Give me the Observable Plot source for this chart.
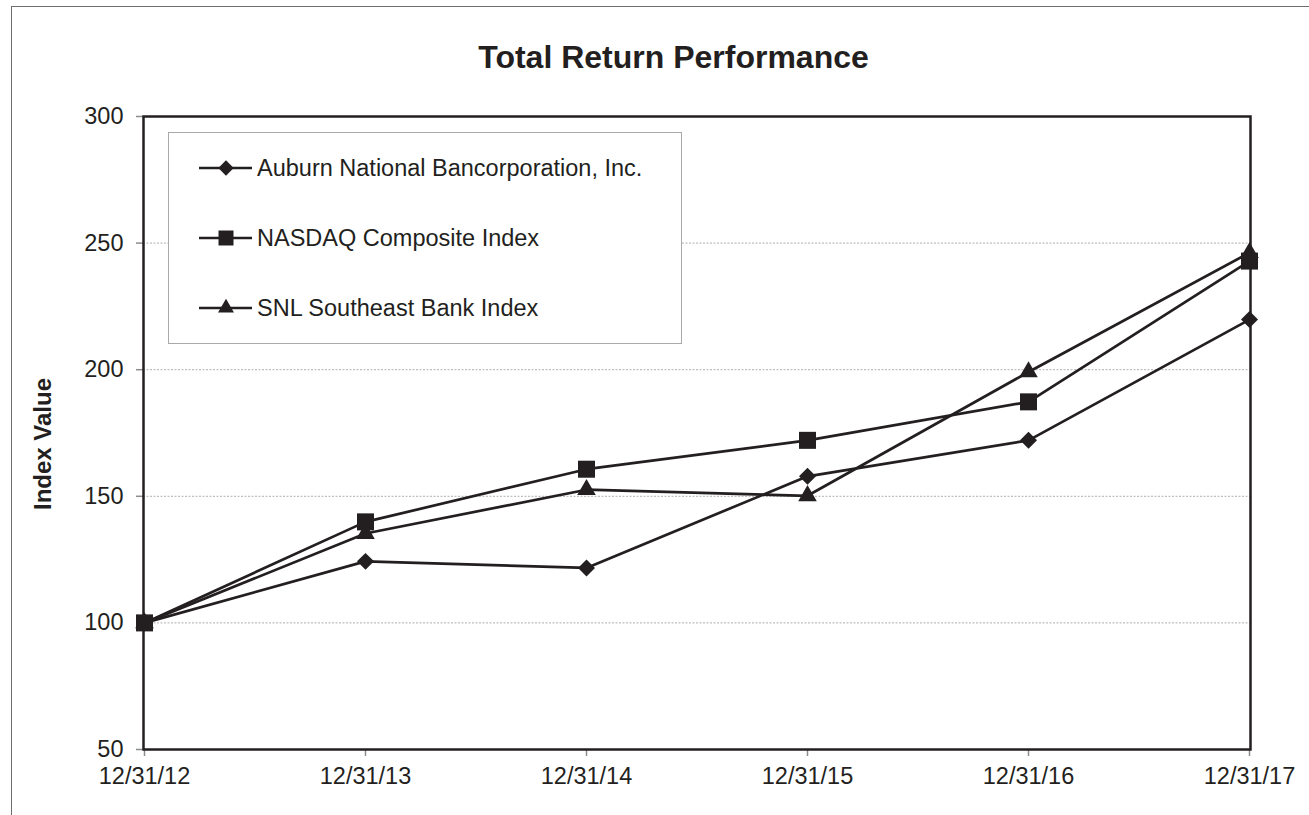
<!DOCTYPE html>
<html>
<head>
<meta charset="utf-8">
<script src="https://cdn.jsdelivr.net/npm/d3@7"></script>
<script src="https://cdn.jsdelivr.net/npm/@observablehq/plot@0.6"></script>
<style>
  body { margin: 0; background: #fff; }
  #wrap { position: relative; width: 1309px; height: 815px; background: #fff; overflow: hidden;
          font-family: "Liberation Sans", Arial, Helvetica, sans-serif; color: #231f20; }
  #border { position: absolute; left: 11px; top: 6px; width: 1400px; height: 900px;
            border-left: 1.5px solid #6f6f6f; border-top: 1.5px solid #6f6f6f; }
  #title { position: absolute; left: 0; top: 41px; width: 1347px; text-align: center;
           font-weight: bold; font-size: 32px; line-height: 32px; }
  #chart { position: absolute; left: 0; top: 90px; }
  #ylabel { position: absolute; left: -107px; top: 432px; width: 300px; height: 24px; text-align: center;
            font-weight: bold; font-size: 24px; line-height: 24px; transform: rotate(-90deg); }
  #legend { position: absolute; left: 168px; top: 132px; width: 512px; height: 210px;
            border: 1px solid #a9a9a9; background: #fff; }
  .entry { position: absolute; left: 0; }
  .entry svg { position: absolute; left: 29px; top: 0; }
  .entry span { position: absolute; left: 88px; top: 0; white-space: nowrap; font-size: 23.5px; line-height: 24px; }
</style>
</head>
<body>
<div id="wrap">
  <div id="border"></div>
  <div id="title">Total Return Performance</div>
  <div id="chart"></div>
  <div id="ylabel">Index Value</div>
  <div id="legend"></div>
</div>
<script>
// ---- data ----
const dates = ["12/31/12", "12/31/13", "12/31/14", "12/31/15", "12/31/16", "12/31/17"];
const seriesNames = ["Auburn National Bancorporation, Inc.", "NASDAQ Composite Index", "SNL Southeast Bank Index"];
const auburn = [100, 124.3, 121.7, 157.9, 172.1, 219.8];
const nasdaq = [100, 139.9, 160.7, 172.1, 187.3, 242.9];
const snl    = [100, 135.3, 152.6, 150.2, 199.1, 246.2];
const yTicks = [50, 100, 150, 200, 250, 300];
const gridValues = [100, 150, 200, 250];

const ink = "#231f20";
const seriesValues = [auburn, nasdaq, snl];
const symbols = ["diamond2", "square", "triangle"];
const radii = [7.65, 9.6, 6.9];

const data = [];
seriesNames.forEach((s, i) => dates.forEach((d, j) => data.push({series: s, date: d, value: seriesValues[i][j]})));

const hasAxis = typeof Plot.axisX === "function";
const axisMarks = hasAxis ? [
  Plot.axisX({tickSize: 7, tickPadding: 11, stroke: "#8c8c8c", strokeWidth: 1.5, fill: ink, label: null}),
  Plot.axisY({ticks: yTicks, tickSize: 7, tickPadding: 13, stroke: "#8c8c8c", strokeWidth: 1.5, fill: ink, label: null})
] : [];

const dotOrder = [0, 2, 1];
const chart = Plot.plot({
  width: 1309,
  height: 725,
  marginLeft: 143,
  marginRight: 59,
  marginTop: 26,
  marginBottom: 66,
  style: {fontFamily: '"Liberation Sans", Arial, Helvetica, sans-serif', fontSize: "23.5px", color: ink, background: "transparent", overflow: "visible"},
  x: {type: "point", domain: dates, padding: 0, label: null, tickSize: 7, tickPadding: 11},
  y: {domain: [50, 300], ticks: yTicks, label: null, tickSize: 7, tickPadding: 13},
  marks: [
    Plot.ruleY(gridValues, {stroke: "#9a9a9a", strokeWidth: 0.8, strokeDasharray: "2,1.5"}),
    ...axisMarks,
    Plot.line(data, {x: "date", y: "value", z: "series", stroke: ink, strokeWidth: 2.7}),
    ...dotOrder.map(i => Plot.dot(data.filter(d => d.series === seriesNames[i]),
      {x: "date", y: "value", symbol: () => symbols[i], r: radii[i], fill: ink, stroke: "none"})),
    Plot.frame({stroke: ink, strokeWidth: 2.5})
  ]
});
document.getElementById("chart").appendChild(chart);

// style ticks for older Plot versions
if (!hasAxis) {
  chart.querySelectorAll('[aria-label$="axis"] .tick line, [aria-label$="axis"] line').forEach(l => { l.setAttribute("stroke", "#8c8c8c"); l.setAttribute("stroke-width", "1.5"); });
}

// ---- legend ----
const legend = document.getElementById("legend");
const legendSymbols = [d3.symbolDiamond2, d3.symbolSquare, d3.symbolTriangle];
const legendSizes = [150, 225, 110];
const entryCenters = [35, 104.5, 174.5];
seriesNames.forEach((name, i) => {
  const e = document.createElement("div");
  e.className = "entry";
  e.style.top = (entryCenters[i] - 12) + "px";
  const svg = d3.create("svg").attr("width", 56).attr("height", 24);
  svg.append("line").attr("x1", 1).attr("x2", 54).attr("y1", 12).attr("y2", 12).attr("stroke", ink).attr("stroke-width", 2.5);
  svg.append("path").attr("d", d3.symbol(legendSymbols[i], legendSizes[i])()).attr("transform", "translate(28,12)").attr("fill", ink);
  e.appendChild(svg.node());
  const t = document.createElement("span");
  t.style.top = "0px";
  t.textContent = name;
  e.appendChild(t);
  legend.appendChild(e);
});
</script>
</body>
</html>
